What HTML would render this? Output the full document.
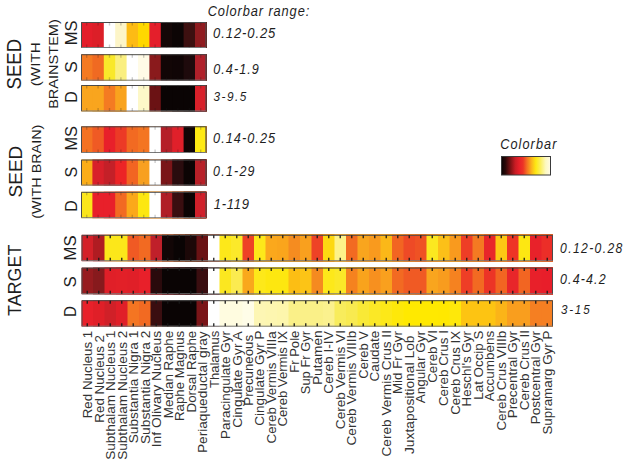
<!DOCTYPE html>
<html><head><meta charset="utf-8"><style>
html,body{margin:0;padding:0;background:#fff;}
body{width:629px;height:467px;overflow:hidden;}
svg{display:block;font-family:"Liberation Sans",sans-serif;}
</style></head><body>
<svg width="629" height="467" viewBox="0 0 629 467">
<rect width="629" height="467" fill="#ffffff"/>
<defs><linearGradient id="cbg" x1="0" x2="1" y1="0" y2="0">
<stop offset="0" stop-color="#0a0404"/>
<stop offset="0.08" stop-color="#2a0808"/>
<stop offset="0.18" stop-color="#7a1214"/>
<stop offset="0.28" stop-color="#c81c24"/>
<stop offset="0.36" stop-color="#e8202a"/>
<stop offset="0.44" stop-color="#ec3426"/>
<stop offset="0.52" stop-color="#f47222"/>
<stop offset="0.62" stop-color="#fbb81a"/>
<stop offset="0.70" stop-color="#fde812"/>
<stop offset="0.78" stop-color="#fbee50"/>
<stop offset="0.90" stop-color="#fdf8c0"/>
<stop offset="1" stop-color="#fffbe8"/>
</linearGradient></defs>
<rect x="501.5" y="156.5" width="49" height="18.5" fill="url(#cbg)" stroke="#3a3a3a" stroke-width="1"/>
<rect x="81.00" y="22" width="125.40" height="26.00" fill="#e41e2a"/>
<rect x="92.40" y="22" width="114.00" height="26.00" fill="#dc1f28"/>
<rect x="103.80" y="22" width="102.60" height="26.00" fill="#ffffff"/>
<rect x="115.20" y="22" width="91.20" height="26.00" fill="#fdf5c8"/>
<rect x="126.60" y="22" width="79.80" height="26.00" fill="#fdbb14"/>
<rect x="138.00" y="22" width="68.40" height="26.00" fill="#ffd800"/>
<rect x="149.40" y="22" width="57.00" height="26.00" fill="#e41f2b"/>
<rect x="160.80" y="22" width="45.60" height="26.00" fill="#140707"/>
<rect x="172.20" y="22" width="34.20" height="26.00" fill="#0c0505"/>
<rect x="183.60" y="22" width="22.80" height="26.00" fill="#3d1010"/>
<rect x="195.00" y="22" width="11.40" height="26.00" fill="#8f1b1f"/>
<path d="M81.50 47.50V22.50H205.90V47.50" fill="none" stroke="#4a4a4a" stroke-width="1"/>
<path d="M81.50 47.50H205.90" fill="none" stroke="#7a7a7a" stroke-width="1"/>
<path d="M86.70 22.50v3M86.70 47.50v-3M98.10 22.50v3M98.10 47.50v-3M109.50 22.50v3M109.50 47.50v-3M120.90 22.50v3M120.90 47.50v-3M132.30 22.50v3M132.30 47.50v-3M143.70 22.50v3M143.70 47.50v-3M155.10 22.50v3M155.10 47.50v-3M166.50 22.50v3M166.50 47.50v-3M177.90 22.50v3M177.90 47.50v-3M189.30 22.50v3M189.30 47.50v-3M200.70 22.50v3M200.70 47.50v-3" stroke="#1a1a1a" stroke-width="1.4" fill="none" opacity="0.22"/>
<rect x="81.00" y="54.2" width="125.40" height="26.50" fill="#f47a22"/>
<rect x="92.40" y="54.2" width="114.00" height="26.50" fill="#f06a22"/>
<rect x="103.80" y="54.2" width="102.60" height="26.50" fill="#f9e82a"/>
<rect x="115.20" y="54.2" width="91.20" height="26.50" fill="#faef80"/>
<rect x="126.60" y="54.2" width="79.80" height="26.50" fill="#ffffff"/>
<rect x="138.00" y="54.2" width="68.40" height="26.50" fill="#fffbe6"/>
<rect x="149.40" y="54.2" width="57.00" height="26.50" fill="#8a1a1c"/>
<rect x="160.80" y="54.2" width="45.60" height="26.50" fill="#120606"/>
<rect x="172.20" y="54.2" width="34.20" height="26.50" fill="#100506"/>
<rect x="183.60" y="54.2" width="22.80" height="26.50" fill="#1e0a0c"/>
<rect x="195.00" y="54.2" width="11.40" height="26.50" fill="#b0202a"/>
<path d="M81.50 80.20V54.70H205.90V80.20" fill="none" stroke="#4a4a4a" stroke-width="1"/>
<path d="M81.50 80.20H205.90" fill="none" stroke="#7a7a7a" stroke-width="1"/>
<path d="M86.70 54.70v3M86.70 80.20v-3M98.10 54.70v3M98.10 80.20v-3M109.50 54.70v3M109.50 80.20v-3M120.90 54.70v3M120.90 80.20v-3M132.30 54.70v3M132.30 80.20v-3M143.70 54.70v3M143.70 80.20v-3M155.10 54.70v3M155.10 80.20v-3M166.50 54.70v3M166.50 80.20v-3M177.90 54.70v3M177.90 80.20v-3M189.30 54.70v3M189.30 80.20v-3M200.70 54.70v3M200.70 80.20v-3" stroke="#1a1a1a" stroke-width="1.4" fill="none" opacity="0.22"/>
<rect x="81.00" y="85" width="125.40" height="26.50" fill="#f9a51e"/>
<rect x="92.40" y="85" width="114.00" height="26.50" fill="#f9a51e"/>
<rect x="103.80" y="85" width="102.60" height="26.50" fill="#f47b22"/>
<rect x="115.20" y="85" width="91.20" height="26.50" fill="#f9a31e"/>
<rect x="126.60" y="85" width="79.80" height="26.50" fill="#ffffff"/>
<rect x="138.00" y="85" width="68.40" height="26.50" fill="#fdf8c8"/>
<rect x="149.40" y="85" width="57.00" height="26.50" fill="#6b1214"/>
<rect x="160.80" y="85" width="45.60" height="26.50" fill="#0a0404"/>
<rect x="172.20" y="85" width="34.20" height="26.50" fill="#0a0404"/>
<rect x="183.60" y="85" width="22.80" height="26.50" fill="#0a0404"/>
<rect x="195.00" y="85" width="11.40" height="26.50" fill="#d8202a"/>
<path d="M81.50 111.00V85.50H205.90V111.00" fill="none" stroke="#4a4a4a" stroke-width="1"/>
<path d="M81.50 111.00H205.90" fill="none" stroke="#7a7a7a" stroke-width="1"/>
<path d="M86.70 85.50v3M86.70 111.00v-3M98.10 85.50v3M98.10 111.00v-3M109.50 85.50v3M109.50 111.00v-3M120.90 85.50v3M120.90 111.00v-3M132.30 85.50v3M132.30 111.00v-3M143.70 85.50v3M143.70 111.00v-3M155.10 85.50v3M155.10 111.00v-3M166.50 85.50v3M166.50 111.00v-3M177.90 85.50v3M177.90 111.00v-3M189.30 85.50v3M189.30 111.00v-3M200.70 85.50v3M200.70 111.00v-3" stroke="#1a1a1a" stroke-width="1.4" fill="none" opacity="0.22"/>
<rect x="81.00" y="126.3" width="125.40" height="26.70" fill="#f47222"/>
<rect x="92.40" y="126.3" width="114.00" height="26.70" fill="#f05a24"/>
<rect x="103.80" y="126.3" width="102.60" height="26.70" fill="#e8202a"/>
<rect x="115.20" y="126.3" width="91.20" height="26.70" fill="#ec3a26"/>
<rect x="126.60" y="126.3" width="79.80" height="26.70" fill="#f26a22"/>
<rect x="138.00" y="126.3" width="68.40" height="26.70" fill="#f47522"/>
<rect x="149.40" y="126.3" width="57.00" height="26.70" fill="#ffffff"/>
<rect x="160.80" y="126.3" width="45.60" height="26.70" fill="#b51f28"/>
<rect x="172.20" y="126.3" width="34.20" height="26.70" fill="#e0202a"/>
<rect x="183.60" y="126.3" width="22.80" height="26.70" fill="#100505"/>
<rect x="195.00" y="126.3" width="11.40" height="26.70" fill="#ffe912"/>
<path d="M81.50 152.50V126.80H205.90V152.50" fill="none" stroke="#4a4a4a" stroke-width="1"/>
<path d="M81.50 152.50H205.90" fill="none" stroke="#7a7a7a" stroke-width="1"/>
<path d="M86.70 126.80v3M86.70 152.50v-3M98.10 126.80v3M98.10 152.50v-3M109.50 126.80v3M109.50 152.50v-3M120.90 126.80v3M120.90 152.50v-3M132.30 126.80v3M132.30 152.50v-3M143.70 126.80v3M143.70 152.50v-3M155.10 126.80v3M155.10 152.50v-3M166.50 126.80v3M166.50 152.50v-3M177.90 126.80v3M177.90 152.50v-3M189.30 126.80v3M189.30 152.50v-3M200.70 126.80v3M200.70 152.50v-3" stroke="#1a1a1a" stroke-width="1.4" fill="none" opacity="0.22"/>
<rect x="81.00" y="159.5" width="125.40" height="26.10" fill="#fbad18"/>
<rect x="92.40" y="159.5" width="114.00" height="26.10" fill="#d8202a"/>
<rect x="103.80" y="159.5" width="102.60" height="26.10" fill="#c42028"/>
<rect x="115.20" y="159.5" width="91.20" height="26.10" fill="#ec2426"/>
<rect x="126.60" y="159.5" width="79.80" height="26.10" fill="#f26522"/>
<rect x="138.00" y="159.5" width="68.40" height="26.10" fill="#f8a020"/>
<rect x="149.40" y="159.5" width="57.00" height="26.10" fill="#ffffff"/>
<rect x="160.80" y="159.5" width="45.60" height="26.10" fill="#7a1518"/>
<rect x="172.20" y="159.5" width="34.20" height="26.10" fill="#2a0c0e"/>
<rect x="183.60" y="159.5" width="22.80" height="26.10" fill="#0c0404"/>
<rect x="195.00" y="159.5" width="11.40" height="26.10" fill="#b82028"/>
<path d="M81.50 185.10V160.00H205.90V185.10" fill="none" stroke="#4a4a4a" stroke-width="1"/>
<path d="M81.50 185.10H205.90" fill="none" stroke="#7a7a7a" stroke-width="1"/>
<path d="M86.70 160.00v3M86.70 185.10v-3M98.10 160.00v3M98.10 185.10v-3M109.50 160.00v3M109.50 185.10v-3M120.90 160.00v3M120.90 185.10v-3M132.30 160.00v3M132.30 185.10v-3M143.70 160.00v3M143.70 185.10v-3M155.10 160.00v3M155.10 185.10v-3M166.50 160.00v3M166.50 185.10v-3M177.90 160.00v3M177.90 185.10v-3M189.30 160.00v3M189.30 185.10v-3M200.70 160.00v3M200.70 185.10v-3" stroke="#1a1a1a" stroke-width="1.4" fill="none" opacity="0.22"/>
<rect x="81.00" y="191.8" width="125.40" height="26.40" fill="#fbe61a"/>
<rect x="92.40" y="191.8" width="114.00" height="26.40" fill="#e8202a"/>
<rect x="103.80" y="191.8" width="102.60" height="26.40" fill="#e8202a"/>
<rect x="115.20" y="191.8" width="91.20" height="26.40" fill="#f26a22"/>
<rect x="126.60" y="191.8" width="79.80" height="26.40" fill="#fba81a"/>
<rect x="138.00" y="191.8" width="68.40" height="26.40" fill="#fde710"/>
<rect x="149.40" y="191.8" width="57.00" height="26.40" fill="#ffffff"/>
<rect x="160.80" y="191.8" width="45.60" height="26.40" fill="#b01e26"/>
<rect x="172.20" y="191.8" width="34.20" height="26.40" fill="#3a0e10"/>
<rect x="183.60" y="191.8" width="22.80" height="26.40" fill="#0c0404"/>
<rect x="195.00" y="191.8" width="11.40" height="26.40" fill="#d0202a"/>
<path d="M81.50 217.70V192.30H205.90V217.70" fill="none" stroke="#4a4a4a" stroke-width="1"/>
<path d="M81.50 217.70H205.90" fill="none" stroke="#7a7a7a" stroke-width="1"/>
<path d="M86.70 192.30v3M86.70 217.70v-3M98.10 192.30v3M98.10 217.70v-3M109.50 192.30v3M109.50 217.70v-3M120.90 192.30v3M120.90 217.70v-3M132.30 192.30v3M132.30 217.70v-3M143.70 192.30v3M143.70 217.70v-3M155.10 192.30v3M155.10 217.70v-3M166.50 192.30v3M166.50 217.70v-3M177.90 192.30v3M177.90 217.70v-3M189.30 192.30v3M189.30 217.70v-3M200.70 192.30v3M200.70 217.70v-3" stroke="#1a1a1a" stroke-width="1.4" fill="none" opacity="0.22"/>
<rect x="81.50" y="234.8" width="471.50" height="26.40" fill="#d42028"/>
<rect x="93.00" y="234.8" width="460.00" height="26.40" fill="#b01c22"/>
<rect x="104.50" y="234.8" width="448.50" height="26.40" fill="#fce71a"/>
<rect x="116.00" y="234.8" width="437.00" height="26.40" fill="#fce71a"/>
<rect x="127.50" y="234.8" width="425.50" height="26.40" fill="#f05a24"/>
<rect x="139.00" y="234.8" width="414.00" height="26.40" fill="#f26a22"/>
<rect x="150.50" y="234.8" width="402.50" height="26.40" fill="#c0202a"/>
<rect x="162.00" y="234.8" width="391.00" height="26.40" fill="#120606"/>
<rect x="173.50" y="234.8" width="379.50" height="26.40" fill="#0a0404"/>
<rect x="185.00" y="234.8" width="368.00" height="26.40" fill="#1c0808"/>
<rect x="196.50" y="234.8" width="356.50" height="26.40" fill="#6a1214"/>
<rect x="208.00" y="234.8" width="345.00" height="26.40" fill="#ffffff"/>
<rect x="219.50" y="234.8" width="333.50" height="26.40" fill="#fde81a"/>
<rect x="231.00" y="234.8" width="322.00" height="26.40" fill="#fce92a"/>
<rect x="242.50" y="234.8" width="310.50" height="26.40" fill="#ee4226"/>
<rect x="254.00" y="234.8" width="299.00" height="26.40" fill="#fde81a"/>
<rect x="265.50" y="234.8" width="287.50" height="26.40" fill="#fba81c"/>
<rect x="277.00" y="234.8" width="276.00" height="26.40" fill="#faa51c"/>
<rect x="288.50" y="234.8" width="264.50" height="26.40" fill="#f58c20"/>
<rect x="300.00" y="234.8" width="253.00" height="26.40" fill="#f9a01e"/>
<rect x="311.50" y="234.8" width="241.50" height="26.40" fill="#ee4226"/>
<rect x="323.00" y="234.8" width="230.00" height="26.40" fill="#fdd812"/>
<rect x="334.50" y="234.8" width="218.50" height="26.40" fill="#fdf28a"/>
<rect x="346.00" y="234.8" width="207.00" height="26.40" fill="#f26a22"/>
<rect x="357.50" y="234.8" width="195.50" height="26.40" fill="#f9a51e"/>
<rect x="369.00" y="234.8" width="184.00" height="26.40" fill="#f99a1e"/>
<rect x="380.50" y="234.8" width="172.50" height="26.40" fill="#fbb818"/>
<rect x="392.00" y="234.8" width="161.00" height="26.40" fill="#f26522"/>
<rect x="403.50" y="234.8" width="149.50" height="26.40" fill="#ee4a26"/>
<rect x="415.00" y="234.8" width="138.00" height="26.40" fill="#ef5224"/>
<rect x="426.50" y="234.8" width="126.50" height="26.40" fill="#fbe820"/>
<rect x="438.00" y="234.8" width="115.00" height="26.40" fill="#fcc018"/>
<rect x="449.50" y="234.8" width="103.50" height="26.40" fill="#f99a1e"/>
<rect x="461.00" y="234.8" width="92.00" height="26.40" fill="#ee3e26"/>
<rect x="472.50" y="234.8" width="80.50" height="26.40" fill="#f47a22"/>
<rect x="484.00" y="234.8" width="69.00" height="26.40" fill="#e8262a"/>
<rect x="495.50" y="234.8" width="57.50" height="26.40" fill="#fdc814"/>
<rect x="507.00" y="234.8" width="46.00" height="26.40" fill="#ee3526"/>
<rect x="518.50" y="234.8" width="34.50" height="26.40" fill="#fde712"/>
<rect x="530.00" y="234.8" width="23.00" height="26.40" fill="#e8222a"/>
<rect x="541.50" y="234.8" width="11.50" height="26.40" fill="#ec2e28"/>
<path d="M82.00 260.70V235.30H552.50V260.70" fill="none" stroke="#4a4a4a" stroke-width="1"/>
<path d="M82.00 260.70H552.50" fill="none" stroke="#7a7a7a" stroke-width="1"/>
<path d="M87.25 235.30v3M87.25 260.70v-3M98.75 235.30v3M98.75 260.70v-3M110.25 235.30v3M110.25 260.70v-3M121.75 235.30v3M121.75 260.70v-3M133.25 235.30v3M133.25 260.70v-3M144.75 235.30v3M144.75 260.70v-3M156.25 235.30v3M156.25 260.70v-3M167.75 235.30v3M167.75 260.70v-3M179.25 235.30v3M179.25 260.70v-3M190.75 235.30v3M190.75 260.70v-3M202.25 235.30v3M202.25 260.70v-3M213.75 235.30v3M213.75 260.70v-3M225.25 235.30v3M225.25 260.70v-3M236.75 235.30v3M236.75 260.70v-3M248.25 235.30v3M248.25 260.70v-3M259.75 235.30v3M259.75 260.70v-3M271.25 235.30v3M271.25 260.70v-3M282.75 235.30v3M282.75 260.70v-3M294.25 235.30v3M294.25 260.70v-3M305.75 235.30v3M305.75 260.70v-3M317.25 235.30v3M317.25 260.70v-3M328.75 235.30v3M328.75 260.70v-3M340.25 235.30v3M340.25 260.70v-3M351.75 235.30v3M351.75 260.70v-3M363.25 235.30v3M363.25 260.70v-3M374.75 235.30v3M374.75 260.70v-3M386.25 235.30v3M386.25 260.70v-3M397.75 235.30v3M397.75 260.70v-3M409.25 235.30v3M409.25 260.70v-3M420.75 235.30v3M420.75 260.70v-3M432.25 235.30v3M432.25 260.70v-3M443.75 235.30v3M443.75 260.70v-3M455.25 235.30v3M455.25 260.70v-3M466.75 235.30v3M466.75 260.70v-3M478.25 235.30v3M478.25 260.70v-3M489.75 235.30v3M489.75 260.70v-3M501.25 235.30v3M501.25 260.70v-3M512.75 235.30v3M512.75 260.70v-3M524.25 235.30v3M524.25 260.70v-3M535.75 235.30v3M535.75 260.70v-3M547.25 235.30v3M547.25 260.70v-3" stroke="#1a1a1a" stroke-width="1.4" fill="none" opacity="0.9"/>
<rect x="81.50" y="267.6" width="471.50" height="26.70" fill="#971b1f"/>
<rect x="93.00" y="267.6" width="460.00" height="26.70" fill="#871a1d"/>
<rect x="104.50" y="267.6" width="448.50" height="26.70" fill="#e01f28"/>
<rect x="116.00" y="267.6" width="437.00" height="26.70" fill="#e22028"/>
<rect x="127.50" y="267.6" width="425.50" height="26.70" fill="#e01f28"/>
<rect x="139.00" y="267.6" width="414.00" height="26.70" fill="#e8202a"/>
<rect x="150.50" y="267.6" width="402.50" height="26.70" fill="#2a0a0c"/>
<rect x="162.00" y="267.6" width="391.00" height="26.70" fill="#0a0404"/>
<rect x="173.50" y="267.6" width="379.50" height="26.70" fill="#0a0404"/>
<rect x="185.00" y="267.6" width="368.00" height="26.70" fill="#0a0404"/>
<rect x="196.50" y="267.6" width="356.50" height="26.70" fill="#3a0e10"/>
<rect x="208.00" y="267.6" width="345.00" height="26.70" fill="#ffffff"/>
<rect x="219.50" y="267.6" width="333.50" height="26.70" fill="#fbe720"/>
<rect x="231.00" y="267.6" width="322.00" height="26.70" fill="#fbeb50"/>
<rect x="242.50" y="267.6" width="310.50" height="26.70" fill="#f9a81c"/>
<rect x="254.00" y="267.6" width="299.00" height="26.70" fill="#fde81a"/>
<rect x="265.50" y="267.6" width="287.50" height="26.70" fill="#fde710"/>
<rect x="277.00" y="267.6" width="276.00" height="26.70" fill="#fde710"/>
<rect x="288.50" y="267.6" width="264.50" height="26.70" fill="#fcbe14"/>
<rect x="300.00" y="267.6" width="253.00" height="26.70" fill="#fcc416"/>
<rect x="311.50" y="267.6" width="241.50" height="26.70" fill="#f58a20"/>
<rect x="323.00" y="267.6" width="230.00" height="26.70" fill="#fde81a"/>
<rect x="334.50" y="267.6" width="218.50" height="26.70" fill="#fbe828"/>
<rect x="346.00" y="267.6" width="207.00" height="26.70" fill="#f5821f"/>
<rect x="357.50" y="267.6" width="195.50" height="26.70" fill="#f9a31c"/>
<rect x="369.00" y="267.6" width="184.00" height="26.70" fill="#f7901f"/>
<rect x="380.50" y="267.6" width="172.50" height="26.70" fill="#f9a01e"/>
<rect x="392.00" y="267.6" width="161.00" height="26.70" fill="#f26a22"/>
<rect x="403.50" y="267.6" width="149.50" height="26.70" fill="#f05a24"/>
<rect x="415.00" y="267.6" width="138.00" height="26.70" fill="#f05a24"/>
<rect x="426.50" y="267.6" width="126.50" height="26.70" fill="#f9a51e"/>
<rect x="438.00" y="267.6" width="115.00" height="26.70" fill="#f89c1e"/>
<rect x="449.50" y="267.6" width="103.50" height="26.70" fill="#f58220"/>
<rect x="461.00" y="267.6" width="92.00" height="26.70" fill="#ee3e26"/>
<rect x="472.50" y="267.6" width="80.50" height="26.70" fill="#f26a22"/>
<rect x="484.00" y="267.6" width="69.00" height="26.70" fill="#ec3426"/>
<rect x="495.50" y="267.6" width="57.50" height="26.70" fill="#f26522"/>
<rect x="507.00" y="267.6" width="46.00" height="26.70" fill="#e8262a"/>
<rect x="518.50" y="267.6" width="34.50" height="26.70" fill="#f26522"/>
<rect x="530.00" y="267.6" width="23.00" height="26.70" fill="#e8202a"/>
<rect x="541.50" y="267.6" width="11.50" height="26.70" fill="#e81e2a"/>
<path d="M82.00 293.80V268.10H552.50V293.80" fill="none" stroke="#4a4a4a" stroke-width="1"/>
<path d="M82.00 293.80H552.50" fill="none" stroke="#7a7a7a" stroke-width="1"/>
<path d="M87.25 268.10v3M87.25 293.80v-3M98.75 268.10v3M98.75 293.80v-3M110.25 268.10v3M110.25 293.80v-3M121.75 268.10v3M121.75 293.80v-3M133.25 268.10v3M133.25 293.80v-3M144.75 268.10v3M144.75 293.80v-3M156.25 268.10v3M156.25 293.80v-3M167.75 268.10v3M167.75 293.80v-3M179.25 268.10v3M179.25 293.80v-3M190.75 268.10v3M190.75 293.80v-3M202.25 268.10v3M202.25 293.80v-3M213.75 268.10v3M213.75 293.80v-3M225.25 268.10v3M225.25 293.80v-3M236.75 268.10v3M236.75 293.80v-3M248.25 268.10v3M248.25 293.80v-3M259.75 268.10v3M259.75 293.80v-3M271.25 268.10v3M271.25 293.80v-3M282.75 268.10v3M282.75 293.80v-3M294.25 268.10v3M294.25 293.80v-3M305.75 268.10v3M305.75 293.80v-3M317.25 268.10v3M317.25 293.80v-3M328.75 268.10v3M328.75 293.80v-3M340.25 268.10v3M340.25 293.80v-3M351.75 268.10v3M351.75 293.80v-3M363.25 268.10v3M363.25 293.80v-3M374.75 268.10v3M374.75 293.80v-3M386.25 268.10v3M386.25 293.80v-3M397.75 268.10v3M397.75 293.80v-3M409.25 268.10v3M409.25 293.80v-3M420.75 268.10v3M420.75 293.80v-3M432.25 268.10v3M432.25 293.80v-3M443.75 268.10v3M443.75 293.80v-3M455.25 268.10v3M455.25 293.80v-3M466.75 268.10v3M466.75 293.80v-3M478.25 268.10v3M478.25 293.80v-3M489.75 268.10v3M489.75 293.80v-3M501.25 268.10v3M501.25 293.80v-3M512.75 268.10v3M512.75 293.80v-3M524.25 268.10v3M524.25 293.80v-3M535.75 268.10v3M535.75 293.80v-3M547.25 268.10v3M547.25 293.80v-3" stroke="#1a1a1a" stroke-width="1.4" fill="none" opacity="0.9"/>
<rect x="81.50" y="300.2" width="471.50" height="26.50" fill="#e8202a"/>
<rect x="93.00" y="300.2" width="460.00" height="26.50" fill="#e01f28"/>
<rect x="104.50" y="300.2" width="448.50" height="26.50" fill="#d02028"/>
<rect x="116.00" y="300.2" width="437.00" height="26.50" fill="#e01f28"/>
<rect x="127.50" y="300.2" width="425.50" height="26.50" fill="#f47522"/>
<rect x="139.00" y="300.2" width="414.00" height="26.50" fill="#f26a22"/>
<rect x="150.50" y="300.2" width="402.50" height="26.50" fill="#3a0e10"/>
<rect x="162.00" y="300.2" width="391.00" height="26.50" fill="#0a0404"/>
<rect x="173.50" y="300.2" width="379.50" height="26.50" fill="#0a0404"/>
<rect x="185.00" y="300.2" width="368.00" height="26.50" fill="#0a0404"/>
<rect x="196.50" y="300.2" width="356.50" height="26.50" fill="#7a1518"/>
<rect x="208.00" y="300.2" width="345.00" height="26.50" fill="#ffffff"/>
<rect x="219.50" y="300.2" width="333.50" height="26.50" fill="#fffce0"/>
<rect x="231.00" y="300.2" width="322.00" height="26.50" fill="#fffce0"/>
<rect x="242.50" y="300.2" width="310.50" height="26.50" fill="#fffde8"/>
<rect x="254.00" y="300.2" width="299.00" height="26.50" fill="#fdf6b4"/>
<rect x="265.50" y="300.2" width="287.50" height="26.50" fill="#fdf6b0"/>
<rect x="277.00" y="300.2" width="276.00" height="26.50" fill="#fdf6ac"/>
<rect x="288.50" y="300.2" width="264.50" height="26.50" fill="#faf088"/>
<rect x="300.00" y="300.2" width="253.00" height="26.50" fill="#faf088"/>
<rect x="311.50" y="300.2" width="241.50" height="26.50" fill="#faf088"/>
<rect x="323.00" y="300.2" width="230.00" height="26.50" fill="#fbf18e"/>
<rect x="334.50" y="300.2" width="218.50" height="26.50" fill="#f8ec5c"/>
<rect x="346.00" y="300.2" width="207.00" height="26.50" fill="#f8ea50"/>
<rect x="357.50" y="300.2" width="195.50" height="26.50" fill="#f9e936"/>
<rect x="369.00" y="300.2" width="184.00" height="26.50" fill="#fbe826"/>
<rect x="380.50" y="300.2" width="172.50" height="26.50" fill="#fde818"/>
<rect x="392.00" y="300.2" width="161.00" height="26.50" fill="#fee80a"/>
<rect x="403.50" y="300.2" width="149.50" height="26.50" fill="#ffe900"/>
<rect x="415.00" y="300.2" width="138.00" height="26.50" fill="#ffe900"/>
<rect x="426.50" y="300.2" width="126.50" height="26.50" fill="#ffe900"/>
<rect x="438.00" y="300.2" width="115.00" height="26.50" fill="#ffe800"/>
<rect x="449.50" y="300.2" width="103.50" height="26.50" fill="#fee80a"/>
<rect x="461.00" y="300.2" width="92.00" height="26.50" fill="#fdc412"/>
<rect x="472.50" y="300.2" width="80.50" height="26.50" fill="#fdc412"/>
<rect x="484.00" y="300.2" width="69.00" height="26.50" fill="#fdc412"/>
<rect x="495.50" y="300.2" width="57.50" height="26.50" fill="#fbb418"/>
<rect x="507.00" y="300.2" width="46.00" height="26.50" fill="#f99e1e"/>
<rect x="518.50" y="300.2" width="34.50" height="26.50" fill="#f99e1e"/>
<rect x="530.00" y="300.2" width="23.00" height="26.50" fill="#f57f22"/>
<rect x="541.50" y="300.2" width="11.50" height="26.50" fill="#f57f22"/>
<path d="M82.00 326.20V300.70H552.50V326.20" fill="none" stroke="#4a4a4a" stroke-width="1"/>
<path d="M82.00 326.20H552.50" fill="none" stroke="#7a7a7a" stroke-width="1"/>
<path d="M87.25 300.70v3M87.25 326.20v-3M98.75 300.70v3M98.75 326.20v-3M110.25 300.70v3M110.25 326.20v-3M121.75 300.70v3M121.75 326.20v-3M133.25 300.70v3M133.25 326.20v-3M144.75 300.70v3M144.75 326.20v-3M156.25 300.70v3M156.25 326.20v-3M167.75 300.70v3M167.75 326.20v-3M179.25 300.70v3M179.25 326.20v-3M190.75 300.70v3M190.75 326.20v-3M202.25 300.70v3M202.25 326.20v-3M213.75 300.70v3M213.75 326.20v-3M225.25 300.70v3M225.25 326.20v-3M236.75 300.70v3M236.75 326.20v-3M248.25 300.70v3M248.25 326.20v-3M259.75 300.70v3M259.75 326.20v-3M271.25 300.70v3M271.25 326.20v-3M282.75 300.70v3M282.75 326.20v-3M294.25 300.70v3M294.25 326.20v-3M305.75 300.70v3M305.75 326.20v-3M317.25 300.70v3M317.25 326.20v-3M328.75 300.70v3M328.75 326.20v-3M340.25 300.70v3M340.25 326.20v-3M351.75 300.70v3M351.75 326.20v-3M363.25 300.70v3M363.25 326.20v-3M374.75 300.70v3M374.75 326.20v-3M386.25 300.70v3M386.25 326.20v-3M397.75 300.70v3M397.75 326.20v-3M409.25 300.70v3M409.25 326.20v-3M420.75 300.70v3M420.75 326.20v-3M432.25 300.70v3M432.25 326.20v-3M443.75 300.70v3M443.75 326.20v-3M455.25 300.70v3M455.25 326.20v-3M466.75 300.70v3M466.75 326.20v-3M478.25 300.70v3M478.25 326.20v-3M489.75 300.70v3M489.75 326.20v-3M501.25 300.70v3M501.25 326.20v-3M512.75 300.70v3M512.75 326.20v-3M524.25 300.70v3M524.25 326.20v-3M535.75 300.70v3M535.75 326.20v-3M547.25 300.70v3M547.25 326.20v-3" stroke="#1a1a1a" stroke-width="1.4" fill="none" opacity="0.9"/>
<g fill="#1e1e1e">
<text transform="translate(21.00,89.54) rotate(-90)" font-size="19.29" textLength="50.74" lengthAdjust="spacingAndGlyphs">SEED</text>
<text transform="translate(39.50,86.21) rotate(-90)" font-size="12.85" textLength="43.97" lengthAdjust="spacingAndGlyphs">(WITH</text>
<text transform="translate(57.80,108.86) rotate(-90)" font-size="12.43" textLength="89.67" lengthAdjust="spacingAndGlyphs">BRAINSTEM)</text>
<text transform="translate(21.60,197.46) rotate(-90)" font-size="19.14" textLength="51.77" lengthAdjust="spacingAndGlyphs">SEED</text>
<text transform="translate(40.50,218.86) rotate(-90)" font-size="12.57" textLength="94.19" lengthAdjust="spacingAndGlyphs">(WITH BRAIN)</text>
<text transform="translate(20.80,315.96) rotate(-90)" font-size="19.00" textLength="71.34" lengthAdjust="spacingAndGlyphs">TARGET</text>
<text transform="translate(77.00,45.32) rotate(-90)" font-size="15.71" textLength="24.76" lengthAdjust="spacingAndGlyphs">MS</text>
<text transform="translate(76.50,72.78) rotate(-90)" font-size="15.57" textLength="11.60" lengthAdjust="spacingAndGlyphs">S</text>
<text transform="translate(76.50,102.79) rotate(-90)" font-size="15.80" textLength="11.65" lengthAdjust="spacingAndGlyphs">D</text>
<text transform="translate(76.80,150.51) rotate(-90)" font-size="15.71" textLength="24.55" lengthAdjust="spacingAndGlyphs">MS</text>
<text transform="translate(76.50,177.62) rotate(-90)" font-size="15.57" textLength="10.67" lengthAdjust="spacingAndGlyphs">S</text>
<text transform="translate(76.50,211.78) rotate(-90)" font-size="15.80" textLength="11.53" lengthAdjust="spacingAndGlyphs">D</text>
<text transform="translate(75.80,260.54) rotate(-90)" font-size="16.00" textLength="25.09" lengthAdjust="spacingAndGlyphs">MS</text>
<text transform="translate(76.00,287.46) rotate(-90)" font-size="16.00" textLength="11.25" lengthAdjust="spacingAndGlyphs">S</text>
<text transform="translate(76.00,316.91) rotate(-90)" font-size="16.23" textLength="10.92" lengthAdjust="spacingAndGlyphs">D</text>
<text transform="translate(207.69,15.70) scale(0.87,1)" font-size="14.73" font-style="italic" letter-spacing="1.029">Colorbar range:</text>
<text transform="translate(213.11,38.30) scale(0.87,1)" font-size="14.95" font-style="italic" letter-spacing="1.045">0.12-0.25</text>
<text transform="translate(213.13,74.00) scale(0.87,1)" font-size="14.48" font-style="italic" letter-spacing="1.252">0.4-1.9</text>
<text transform="translate(213.41,101.00) scale(0.87,1)" font-size="13.55" font-style="italic" letter-spacing="1.742">3-9.5</text>
<text transform="translate(213.03,142.90) scale(0.87,1)" font-size="14.64" font-style="italic" letter-spacing="1.194">0.14-0.25</text>
<text transform="translate(213.04,175.90) scale(0.87,1)" font-size="14.33" font-style="italic" letter-spacing="1.420">0.1-29</text>
<text transform="translate(213.67,208.90) scale(0.87,1)" font-size="14.95" font-style="italic" letter-spacing="0.900">1-119</text>
<text transform="translate(560.05,252.80) scale(0.87,1)" font-size="14.01" font-style="italic" letter-spacing="1.551">0.12-0.28</text>
<text transform="translate(560.04,283.60) scale(0.87,1)" font-size="14.33" font-style="italic" letter-spacing="1.300">0.4-4.2</text>
<text transform="translate(560.91,313.90) scale(0.87,1)" font-size="13.39" font-style="italic" letter-spacing="2.081">3-15</text>
<text transform="translate(500.20,148.70) scale(0.87,1)" font-size="14.58" font-style="italic" letter-spacing="1.241">Colorbar</text>
</g>
<g fill="#333">
<text transform="translate(92.20,418.27) rotate(-90)" font-size="12.90" textLength="87.56" lengthAdjust="spacingAndGlyphs">Red Nucleus 1</text>
<text transform="translate(103.69,422.67) rotate(-90)" font-size="12.90" textLength="87.63" lengthAdjust="spacingAndGlyphs">Red Nucleus 2</text>
<text transform="translate(115.17,459.81) rotate(-90)" font-size="12.90" textLength="129.13" lengthAdjust="spacingAndGlyphs">Subthalam Nucleus 1</text>
<text transform="translate(126.66,459.81) rotate(-90)" font-size="12.90" textLength="129.20" lengthAdjust="spacingAndGlyphs">Subthalam Nucleus 2</text>
<text transform="translate(138.14,443.32) rotate(-90)" font-size="12.90" textLength="112.66" lengthAdjust="spacingAndGlyphs">Substantia Nigra 1</text>
<text transform="translate(149.62,444.12) rotate(-90)" font-size="12.90" textLength="113.54" lengthAdjust="spacingAndGlyphs">Substantia Nigra 2</text>
<text transform="translate(161.11,447.25) rotate(-90)" font-size="12.90" textLength="116.46" lengthAdjust="spacingAndGlyphs">Inf Olivary Nucleus</text>
<text transform="translate(172.59,418.28) rotate(-90)" font-size="12.90" textLength="87.58" lengthAdjust="spacingAndGlyphs">Median Raphe</text>
<text transform="translate(184.08,421.06) rotate(-90)" font-size="12.90" textLength="90.26" lengthAdjust="spacingAndGlyphs">Raphe Magnus</text>
<text transform="translate(195.56,412.47) rotate(-90)" font-size="12.90" textLength="81.76" lengthAdjust="spacingAndGlyphs">Dorsal Raphe</text>
<text transform="translate(207.05,453.10) rotate(-90)" font-size="12.90" textLength="121.79" lengthAdjust="spacingAndGlyphs">Periaqueductal gray</text>
<text transform="translate(218.53,388.06) rotate(-90)" font-size="12.90" textLength="57.23" lengthAdjust="spacingAndGlyphs">Thalamus</text>
<text transform="translate(230.02,438.98) rotate(-90)" font-size="12.90" textLength="107.94" lengthAdjust="spacingAndGlyphs">Paracingulate Gyr</text>
<text transform="translate(241.50,427.69) rotate(-90)" font-size="12.90" textLength="96.44" lengthAdjust="spacingAndGlyphs">Cingulate Gyr A</text>
<text transform="translate(252.99,405.66) rotate(-90)" font-size="12.90" textLength="70.75" lengthAdjust="spacingAndGlyphs">Precuneous</text>
<text transform="translate(264.47,425.67) rotate(-90)" font-size="12.90" textLength="95.10" lengthAdjust="spacingAndGlyphs">Cingulate Gyr P</text>
<text transform="translate(275.96,443.47) rotate(-90)" font-size="12.90" textLength="112.20" lengthAdjust="spacingAndGlyphs">Cereb Vermis VIIIa</text>
<text transform="translate(287.44,426.46) rotate(-90)" font-size="12.90" textLength="95.42" lengthAdjust="spacingAndGlyphs">Cereb Vermis IX</text>
<text transform="translate(298.93,372.85) rotate(-90)" font-size="12.90" textLength="42.18" lengthAdjust="spacingAndGlyphs">Fr Pole</text>
<text transform="translate(310.41,394.18) rotate(-90)" font-size="12.90" textLength="63.14" lengthAdjust="spacingAndGlyphs">Sup Fr Gyr</text>
<text transform="translate(321.90,385.09) rotate(-90)" font-size="12.90" textLength="54.72" lengthAdjust="spacingAndGlyphs">Putamen</text>
<text transform="translate(333.38,393.69) rotate(-90)" font-size="12.90" textLength="62.49" lengthAdjust="spacingAndGlyphs">Cereb I-IV</text>
<text transform="translate(344.87,429.18) rotate(-90)" font-size="12.90" textLength="99.11" lengthAdjust="spacingAndGlyphs">Cereb Vermis VI</text>
<text transform="translate(356.35,445.58) rotate(-90)" font-size="12.90" textLength="114.86" lengthAdjust="spacingAndGlyphs">Cereb Vermis VIIIb</text>
<text transform="translate(367.84,378.65) rotate(-90)" font-size="12.90" textLength="47.46" lengthAdjust="spacingAndGlyphs">Cereb V</text>
<text transform="translate(379.32,381.57) rotate(-90)" font-size="12.90" textLength="50.89" lengthAdjust="spacingAndGlyphs">Caudate</text>
<text transform="translate(390.81,456.48) rotate(-90)" font-size="12.90" textLength="126.41" lengthAdjust="spacingAndGlyphs">Cereb Vermis Crus II</text>
<text transform="translate(402.29,394.07) rotate(-90)" font-size="12.90" textLength="62.99" lengthAdjust="spacingAndGlyphs">Mid Fr Gyr</text>
<text transform="translate(413.78,454.11) rotate(-90)" font-size="12.90" textLength="118.69" lengthAdjust="spacingAndGlyphs">Juxtapositional Lob</text>
<text transform="translate(425.26,403.20) rotate(-90)" font-size="12.90" textLength="72.11" lengthAdjust="spacingAndGlyphs">Angular Gyr</text>
<text transform="translate(436.75,382.87) rotate(-90)" font-size="12.90" textLength="52.79" lengthAdjust="spacingAndGlyphs">Cereb VI</text>
<text transform="translate(448.23,406.07) rotate(-90)" font-size="12.90" textLength="76.03" lengthAdjust="spacingAndGlyphs">Cereb Crus I</text>
<text transform="translate(459.72,414.76) rotate(-90)" font-size="12.90" textLength="83.73" lengthAdjust="spacingAndGlyphs">Cereb Crus IX</text>
<text transform="translate(471.20,406.47) rotate(-90)" font-size="12.90" textLength="75.39" lengthAdjust="spacingAndGlyphs">Heschl&#39;s Gyr</text>
<text transform="translate(482.69,399.67) rotate(-90)" font-size="12.90" textLength="69.02" lengthAdjust="spacingAndGlyphs">Lat Occip S</text>
<text transform="translate(494.17,401.30) rotate(-90)" font-size="12.90" textLength="70.47" lengthAdjust="spacingAndGlyphs">Accumbens</text>
<text transform="translate(505.66,430.57) rotate(-90)" font-size="12.90" textLength="99.84" lengthAdjust="spacingAndGlyphs">Cereb Crus VIIIb</text>
<text transform="translate(517.14,418.28) rotate(-90)" font-size="12.90" textLength="87.21" lengthAdjust="spacingAndGlyphs">Precentral Gyr</text>
<text transform="translate(528.63,410.17) rotate(-90)" font-size="12.90" textLength="80.10" lengthAdjust="spacingAndGlyphs">Cereb Crus II</text>
<text transform="translate(540.12,424.18) rotate(-90)" font-size="12.90" textLength="93.10" lengthAdjust="spacingAndGlyphs">Postcentral Gyr</text>
<text transform="translate(551.60,434.60) rotate(-90)" font-size="12.90" textLength="103.98" lengthAdjust="spacingAndGlyphs">Supramarg Gyr P</text>
</g>
</svg>
</body></html>
